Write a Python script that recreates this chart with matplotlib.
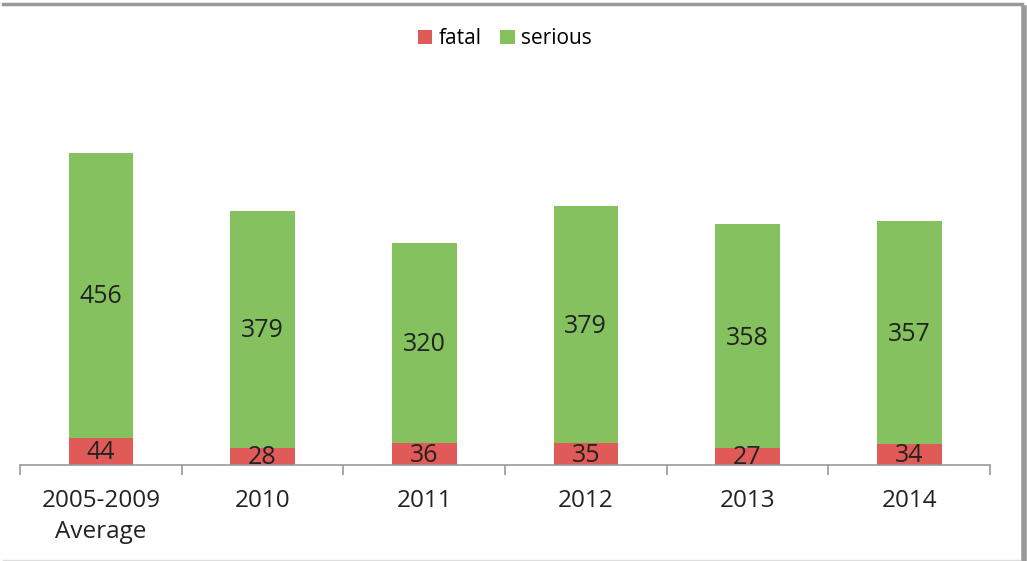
import numpy as np
import matplotlib
matplotlib.use("Agg")
import matplotlib.pyplot as plt
from matplotlib.lines import Line2D

plt.rcParams['font.family'] = ['Open Sans', 'DejaVu Sans']

categories = ['2005-2009\nAverage', '2010', '2011', '2012', '2013', '2014']
fatal = [44, 28, 36, 35, 27, 34]
serious = [456, 379, 320, 379, 358, 357]

red = '#E05A57'
green = '#85C15F'
txt = '#222222'

fig = plt.figure(figsize=(10.27, 5.61), dpi=100)
ax = fig.add_axes([20/1027, 1-465/561, 970/1027, 375/561])

x = np.arange(len(categories))
w = 0.4
ax.bar(x, fatal, w, color=red, label='fatal')
ax.bar(x, serious, w, bottom=fatal, color=green, label='serious')

for i in range(len(x)):
    ax.text(x[i], fatal[i] / 2 - 2, str(fatal[i]), ha='center', va='center',
            fontsize=18, color=txt)
    ax.text(x[i], fatal[i] + serious[i] / 2 - 3, str(serious[i]), ha='center',
            va='center', fontsize=18, color=txt)

ax.set_xlim(-0.5, len(x) - 0.5)
ax.set_ylim(0, 600)
ax.set_yticks([])
for s in ['top', 'right', 'left']:
    ax.spines[s].set_visible(False)
ax.spines['bottom'].set_color('#999999')
ax.spines['bottom'].set_linewidth(1.2)

ax.set_xticks(x)
ax.set_xticklabels(categories, fontsize=17.5, color=txt, linespacing=1.4)
ax.tick_params(axis='x', length=0, pad=17)
ax.set_xticks(np.arange(-0.5, len(x)), minor=True)
ax.tick_params(axis='x', which='minor', length=7, width=1.2, color='#999999')

ax.legend(loc='upper center', bbox_to_anchor=(0.5, 1.215), ncol=2, frameon=False,
          fontsize=15, handlelength=0.7, handleheight=0.7, handletextpad=0.3,
          columnspacing=0.9)

# chart border
fig.add_artist(Line2D([3/1027, 1022/1027], [1-4/561, 1-4/561], color='#999999', lw=2.5))
fig.add_artist(Line2D([1024/1027, 1024/1027], [0, 1-8/561], color='#999999', lw=4))
fig.add_artist(Line2D([3/1027, 1020/1027], [1-560/561, 1-560/561], color='#dddddd', lw=1))

fig.savefig('out.png', dpi=100)
